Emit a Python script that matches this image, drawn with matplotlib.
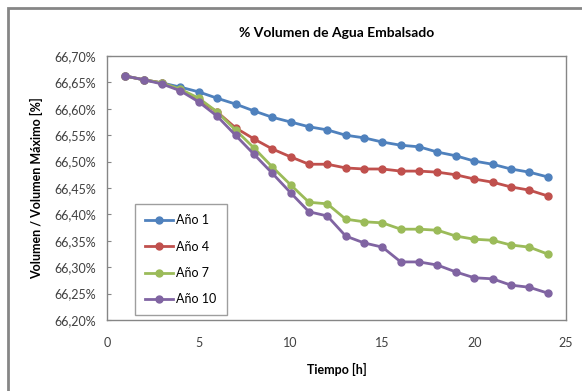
import matplotlib
matplotlib.use("Agg")
import matplotlib.pyplot as plt
from matplotlib.patches import Rectangle
from matplotlib.ticker import FuncFormatter

plt.rcParams['font.family'] = ['Lato', 'DejaVu Sans']

# horas
hours = list(range(1, 25))

# % volumen embalsado por año
ano_1 = [66.662, 66.655, 66.649, 66.641, 66.632, 66.620, 66.609, 66.596,
         66.584, 66.575, 66.566, 66.560, 66.550, 66.545, 66.537, 66.531,
         66.528, 66.518, 66.511, 66.501, 66.495, 66.486, 66.480, 66.471]
ano_4 = [66.662, 66.655, 66.649, 66.636, 66.617, 66.594, 66.564, 66.543,
         66.524, 66.509, 66.495, 66.495, 66.488, 66.486, 66.486, 66.482,
         66.482, 66.480, 66.475, 66.467, 66.461, 66.452, 66.446, 66.435]
ano_7 = [66.662, 66.655, 66.649, 66.637, 66.620, 66.594, 66.560, 66.526,
         66.490, 66.456, 66.423, 66.420, 66.391, 66.386, 66.384, 66.372,
         66.372, 66.370, 66.359, 66.353, 66.351, 66.342, 66.338, 66.325]
ano_10 = [66.662, 66.655, 66.647, 66.634, 66.613, 66.586, 66.550, 66.514,
          66.478, 66.441, 66.405, 66.397, 66.359, 66.346, 66.338, 66.310,
          66.310, 66.304, 66.291, 66.280, 66.278, 66.266, 66.262, 66.251]

series = [
    ("Año 1", ano_1, "#4F81BD"),
    ("Año 4", ano_4, "#C0504D"),
    ("Año 7", ano_7, "#9BBB59"),
    ("Año 10", ano_10, "#8064A2"),
]

fig = plt.figure(figsize=(5.82, 3.91), dpi=100)
ax = fig.add_axes([107 / 582, 1 - 320 / 391, (566 - 107) / 582, (320 - 56) / 391])

for label, vals, color in series:
    ax.plot(hours, vals, color=color, lw=2, marker='o', ms=5, label=label)

ax.set_xlim(0, 25)
ax.set_ylim(66.20, 66.70)
ax.set_xticks(range(0, 26, 5))
ax.set_yticks([66.20 + 0.05 * i for i in range(11)])
ax.yaxis.set_major_formatter(FuncFormatter(lambda v, p: f"{v:.2f}%".replace('.', ',')))
ax.tick_params(axis='x', length=0, pad=12, labelsize=9, labelcolor='#404040')
ax.tick_params(axis='y', direction='in', length=3, color='#868686', labelsize=9,
               labelcolor='#404040', pad=8)
for s in ax.spines.values():
    s.set_color('#868686')
    s.set_linewidth(1)

ax.set_title("% Volumen de Agua Embalsado", fontsize=10, fontweight='bold', pad=14)
ax.set_xlabel("Tiempo [h]", fontsize=9, fontweight='bold', labelpad=10)
ax.set_ylabel("Volumen / Volumen Máximo [%]", fontsize=9, fontweight='bold', labelpad=8)

leg = ax.legend(loc='upper left', bbox_to_anchor=((129 - 107) / 459, (320 - 198) / 264),
                fontsize=9, frameon=True, fancybox=False, handlelength=2.2,
                labelspacing=1.15, borderpad=0.8, handletextpad=0.3)
leg.get_frame().set_edgecolor('#868686')
leg.get_frame().set_linewidth(1)

# marco exterior del gráfico
fig.patches.append(Rectangle((8 / 582, -0.05), 1.1, 1 - 8 / 391 + 0.05,
                             transform=fig.transFigure, fill=False,
                             edgecolor='#868686', lw=2, zorder=0))

fig.savefig("out.png", dpi=100)
